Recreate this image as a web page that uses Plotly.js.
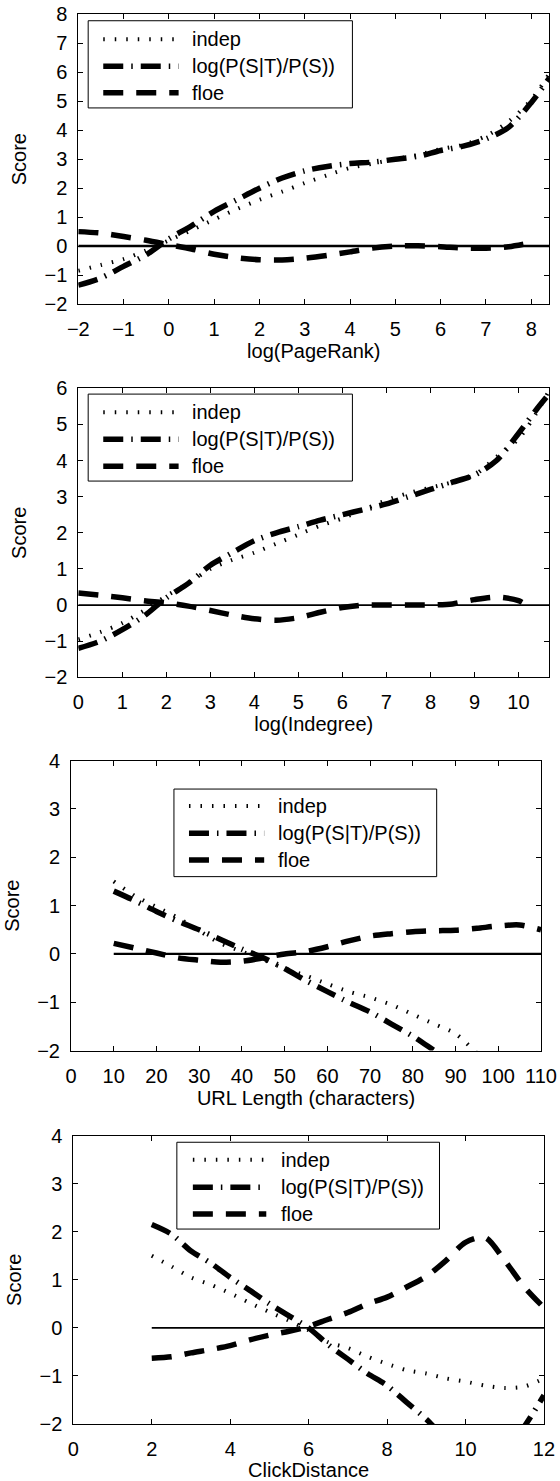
<!DOCTYPE html>
<html>
<head>
<meta charset="utf-8">
<script src="https://cdn.plot.ly/plotly-3.0.1.min.js"></script>
<style>
  html, body { margin: 0; padding: 0; background: #fff; }
  #chart { width: 560px; height: 1481px; }
</style>
</head>
<body>
<div id="chart"></div>
<script>
// ---------------- data ----------------
const seriesNames = ["indep", "log(P(S|T)/P(S))", "floe"];

// Panel 1: log(PageRank)
const prX      = [-2,-1.5,-1,-0.5,0,0.5,1,1.5,2,2.5,3,3.5,4,4.5,5,5.5,6,6.5,7,7.5,8,8.4];
const prIndep  = [-0.85,-0.65,-0.45,-0.15,0.2,0.55,0.92,1.28,1.6,1.88,2.18,2.45,2.7,2.85,3.0,3.15,3.35,3.5,3.8,4.3,5.05,5.95];
const prLog    = [-1.35,-1.1,-0.7,-0.3,0.25,0.7,1.2,1.6,2.0,2.35,2.6,2.75,2.85,2.9,3.0,3.1,3.3,3.45,3.7,4.1,4.95,5.8];
const prFloeX  = [-2,-1.5,-1,-0.5,0,0.5,1,1.5,2,2.5,3,3.5,4,4.5,5,5.5,6,6.5,7,7.5,8.1];
const prFloe   = [0.5,0.45,0.33,0.2,0.05,-0.1,-0.28,-0.4,-0.47,-0.48,-0.42,-0.32,-0.2,-0.07,0,0.01,-0.02,-0.07,-0.07,-0.02,0.15];
const prZeroX  = [-2, 8.4];

// Panel 2: log(Indegree)
const inX      = [0,0.5,1,1.5,2,2.5,3,3.5,4,4.5,5,5.5,6,6.5,7,7.5,8,8.5,9,9.5,10,10.4,10.7];
const inIndep  = [-0.95,-0.75,-0.5,-0.15,0.25,0.6,1.0,1.25,1.45,1.7,1.95,2.2,2.4,2.65,2.9,3.1,3.25,3.4,3.6,4.1,4.6,5.3,5.95];
const inLog    = [-1.2,-1.0,-0.68,-0.3,0.2,0.6,1.1,1.45,1.78,2.0,2.17,2.35,2.5,2.65,2.8,3.0,3.2,3.4,3.6,4.0,4.75,5.4,5.85];
const inFloeX  = [0,0.5,1,1.5,2,2.5,3,3.5,4,4.5,5,5.5,6,6.5,7,7.5,8,8.5,9,9.5,10,10.3];
const inFloe   = [0.33,0.27,0.2,0.12,0.06,-0.03,-0.15,-0.28,-0.38,-0.42,-0.35,-0.2,-0.07,0,0,0,0,0.03,0.15,0.22,0.12,-0.1];
const inZeroX  = [0, 10.7];

// Panel 3: URL Length (characters)
const urlX     = [10,15,20,25,30,35,40,45,50,55,60,65,70,75,80,85,90,95,100,105,110];
const urlIndep = [1.5,1.2,0.97,0.75,0.48,0.22,0.05,-0.12,-0.3,-0.45,-0.62,-0.78,-0.9,-1.05,-1.25,-1.45,-1.65,-2.05,-2.4,null,null];
const urlLog   = [1.3,1.1,0.88,0.68,0.5,0.3,0.1,-0.08,-0.3,-0.55,-0.78,-1.0,-1.2,-1.45,-1.7,-2.0,-2.3,null,null,null,null];
const urlFloe  = [0.22,0.12,0.02,-0.08,-0.13,-0.17,-0.15,-0.08,0.0,0.05,0.15,0.27,0.37,0.42,0.46,0.48,0.49,0.53,0.58,0.6,0.5];
const urlZeroX = [10, 110];

// Panel 4: ClickDistance
const cdX      = [2,2.5,3,3.5,4,4.5,5,5.5,6,6.5,7,7.5,8,8.5,9,9.5,10,10.5,11,11.5,12];
const cdIndep  = [1.5,1.28,1.05,0.9,0.72,0.52,0.33,0.15,-0.05,-0.3,-0.42,-0.6,-0.75,-0.88,-0.95,-1.05,-1.12,-1.2,-1.25,-1.22,-1.05];
const cdLog    = [2.15,1.95,1.6,1.35,1.05,0.78,0.5,0.25,0.0,-0.35,-0.65,-0.95,-1.2,-1.55,-1.9,-2.3,-2.5,-2.6,-2.55,-2.05,-1.4];
const cdFloe   = [-0.63,-0.6,-0.52,-0.45,-0.37,-0.25,-0.15,-0.07,0.03,0.18,0.32,0.5,0.64,0.85,1.07,1.4,1.78,1.88,1.4,0.85,0.42];
const cdZeroX  = [2, 12];

const zeroY = [0, 0];

// ---------------- styles ----------------
const FONT = "Liberation Sans, Arial, Helvetica, sans-serif";
const FS = 20;
const styles = [
  {color: "#000", width: 4,   dash: "1.5px,10px"},           // indep (dotted)
  {color: "#000", width: 5.5, dash: "20px,8px,1.5px,8px"},   // dash-dot
  {color: "#000", width: 5.5, dash: "20px,13px"}             // dashed
];

function panel(ax, x, ys, floeX, zx, zw) {
  const xa = ax === 1 ? "x" : "x" + ax, ya = ax === 1 ? "y" : "y" + ax;
  const out = [];
  out.push({x: zx, y: zeroY, mode: "lines", xaxis: xa, yaxis: ya, showlegend: false,
            line: {color: "#000", width: zw}, hoverinfo: "skip"});
  ys.forEach((y, i) => {
    out.push({x: (i === 2 && floeX) ? floeX : x, y: y, mode: "lines", name: seriesNames[i],
              xaxis: xa, yaxis: ya, showlegend: false,
              line: Object.assign({shape: "spline", smoothing: 0.8}, styles[i])});
  });
  return out;
}

const data = [].concat(
  panel(1, prX, [prIndep, prLog, prFloe], prFloeX, prZeroX, 2.5),
  panel(2, inX, [inIndep, inLog, inFloe], inFloeX, inZeroX, 1.8),
  panel(3, urlX, [urlIndep, urlLog, urlFloe], null, urlZeroX, 2.2),
  panel(4, cdX, [cdIndep, cdLog, cdFloe], null, cdZeroX, 1.8)
);

function xaxisCfg(domain, range, dtick, title, anchor) {
  return {domain: domain, range: range, dtick: dtick, tick0: 0, anchor: anchor,
    showline: true, linecolor: "#000", linewidth: 1, mirror: "ticks",
    ticks: "inside", ticklen: 5, tickcolor: "#000", tickwidth: 1,
    showgrid: false, zeroline: false, ticklabelstandoff: 7,
    tickfont: {family: FONT, size: FS, color: "#000"},
    title: {text: title, font: {family: FONT, size: FS, color: "#000"}, standoff: 3}};
}
function yaxisCfg(domain, range, anchor) {
  return {domain: domain, range: range, dtick: 1, tick0: 0, anchor: anchor,
    showline: true, linecolor: "#000", linewidth: 1, mirror: "ticks",
    ticks: "inside", ticklen: 5, tickcolor: "#000", tickwidth: 1,
    showgrid: false, zeroline: false, ticklabelstandoff: 6,
    tickfont: {family: FONT, size: FS, color: "#000"},
    title: {text: "Score", font: {family: FONT, size: FS, color: "#000"}, standoff: 12}};
}

// legend boxes (in axis-domain fractions)
const legends = [
  {ax: "",  box: [0.021, 0.582, 0.677, 0.978], sample: [0.053, 0.213], text: 0.238, rows: [0.914, 0.821, 0.729]},
  {ax: "2", box: [0.021, 0.582, 0.679, 0.980], sample: [0.053, 0.213], text: 0.238, rows: [0.917, 0.824, 0.730]},
  {ax: "3", box: [0.219, 0.778, 0.600, 0.902], sample: [0.251, 0.411], text: 0.436, rows: [0.844, 0.750, 0.657]},
  {ax: "4", box: [0.220, 0.778, 0.676, 0.977], sample: [0.254, 0.410], text: 0.438, rows: [0.916, 0.821, 0.728]}
];
const shapes = [], annotations = [];
legends.forEach(L => {
  const xr = "x" + L.ax + " domain", yr = "y" + L.ax + " domain";
  shapes.push({type: "rect", xref: xr, yref: yr, x0: L.box[0], x1: L.box[1], y0: L.box[2], y1: L.box[3],
               line: {color: "#000", width: 1}, fillcolor: "#fff", layer: "above"});
  seriesNames.forEach((nm, i) => {
    shapes.push({type: "line", xref: xr, yref: yr, x0: L.sample[0], x1: L.sample[1], y0: L.rows[i], y1: L.rows[i],
                 line: {color: "#000", width: styles[i].width, dash: styles[i].dash}, layer: "above"});
    annotations.push({xref: xr, yref: yr, x: L.text, y: L.rows[i], text: nm, showarrow: false,
                      xanchor: "left", yanchor: "middle", font: {family: FONT, size: FS, color: "#000"}});
  });
});

const layout = {
  width: 560, height: 1481,
  margin: {l: 0, r: 0, t: 0, b: 0},
  paper_bgcolor: "#fff", plot_bgcolor: "#fff",
  showlegend: false,
  font: {family: FONT, size: FS, color: "#000"},
  xaxis:  xaxisCfg([0.1398, 0.9809], [-2, 8.4], 1, "log(PageRank)", "y"),
  yaxis:  yaxisCfg([0.7947, 0.9903], [-2, 8], "x"),
  xaxis2: xaxisCfg([0.1398, 0.9809], [0, 10.7], 1, "log(Indegree)", "y2"),
  yaxis2: yaxisCfg([0.5427, 0.7378], [-2, 6], "x2"),
  xaxis3: xaxisCfg([0.1268, 0.9661], [0, 110], 10, "URL Length (characters)", "y3"),
  yaxis3: yaxisCfg([0.2906, 0.4864], [-2, 4], "x3"),
  xaxis4: xaxisCfg([0.1309, 0.9714], [0, 12], 2, "ClickDistance", "y4"),
  yaxis4: yaxisCfg([0.03849, 0.2332], [-2, 4], "x4"),
  shapes: shapes,
  annotations: annotations
};

Plotly.newPlot("chart", data, layout, {staticPlot: true, displayModeBar: false});
</script>
</body>
</html>
